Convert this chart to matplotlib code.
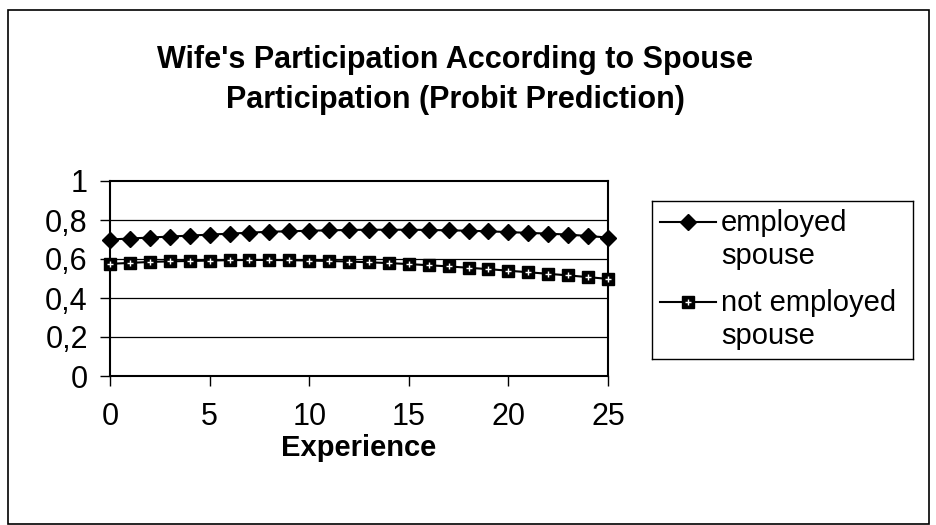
import matplotlib.pyplot as plt
from matplotlib.patches import Rectangle

plt.rcParams['font.family'] = ['Liberation Sans', 'DejaVu Sans']

# data
experience = list(range(26))
employed = [0.700, 0.705, 0.710, 0.715, 0.720, 0.725, 0.730, 0.735, 0.740, 0.742,
            0.745, 0.747, 0.749, 0.750, 0.750, 0.750, 0.749, 0.747, 0.745, 0.742,
            0.738, 0.734, 0.730, 0.725, 0.718, 0.710]
not_employed = [0.575, 0.580, 0.585, 0.588, 0.590, 0.592, 0.594, 0.595, 0.595, 0.594,
                0.592, 0.590, 0.587, 0.583, 0.579, 0.574, 0.568, 0.562, 0.555, 0.548,
                0.540, 0.532, 0.524, 0.516, 0.507, 0.498]
series_names = ['employed\nspouse', 'not employed\nspouse']
y_ticks = [0, 0.2, 0.4, 0.6, 0.8, 1]
y_labels = ['0', '0,2', '0,4', '0,6', '0,8', '1']
x_ticks = [0, 5, 10, 15, 20, 25]

fig = plt.figure(figsize=(9.36, 5.25), dpi=100)
ax = fig.add_axes([110/936, 1-376/525, (608-110)/936, (376-181)/525])

for y in y_ticks[1:-1]:
    ax.axhline(y, color='black', lw=0.9, zorder=1)

ax.plot(experience, employed, color='black', lw=1.5, marker='D',
        markersize=8.5, zorder=3, clip_on=False)
ax.plot(experience, not_employed, color='black', lw=1.5, marker='s',
        markersize=8.5, markerfacecolor='black', zorder=3, clip_on=False)
ax.plot(experience, not_employed, ls='none', marker='+', color='white',
        markersize=4.5, mew=1, zorder=4, clip_on=False)

ax.set_xlim(0, 25)
ax.set_ylim(0, 1)
ax.set_xticks(x_ticks)
ax.set_yticks(y_ticks)
ax.set_yticklabels(y_labels)
ax.tick_params(labelsize=22, length=7, width=1, direction='out')
ax.tick_params(axis='y', pad=9)
ax.tick_params(axis='x', pad=12)
for s in ax.spines.values():
    s.set_linewidth(1.5)

ax.set_xlabel('Experience', fontsize=21, fontweight='bold')
ax.xaxis.set_label_coords(0.5, (376-448)/195)
ax.xaxis.label.set_va('center')

fig.text(455/936, 1-80/525, "Wife's Participation According to Spouse\nParticipation (Probit Prediction)",
         ha='center', va='center', fontsize=22, fontweight='bold', linespacing=1.45)

# legend box, drawn by hand so each handle sits on the first text line
lax = fig.add_axes([652/936, 1-359/525, (913-652)/936, (359-201)/525])
lax.set_xlim(652, 913)
lax.set_ylim(359, 201)
lax.set_xticks([])
lax.set_yticks([])
for s in lax.spines.values():
    s.set_linewidth(1)
lax.plot([660, 716], [222, 222], color='black', lw=1.5)
lax.plot([688], [222], color='black', marker='D', markersize=8.5)
lax.plot([660, 716], [302, 302], color='black', lw=1.5)
lax.plot([688], [302], color='black', marker='s', markersize=8.5)
lax.plot([688], [302], color='white', marker='+', markersize=4.5, mew=1)
for name, ytop in zip(series_names, [222, 302]):
    lax.text(721, ytop - 13, name, fontsize=21, ha='left', va='top', linespacing=1.25)

fig.patches.append(Rectangle((8/936, 1/525), 921/936, 514/525, transform=fig.transFigure,
                             fill=False, edgecolor='black', lw=1.2))

fig.savefig('out.png', dpi=100)
